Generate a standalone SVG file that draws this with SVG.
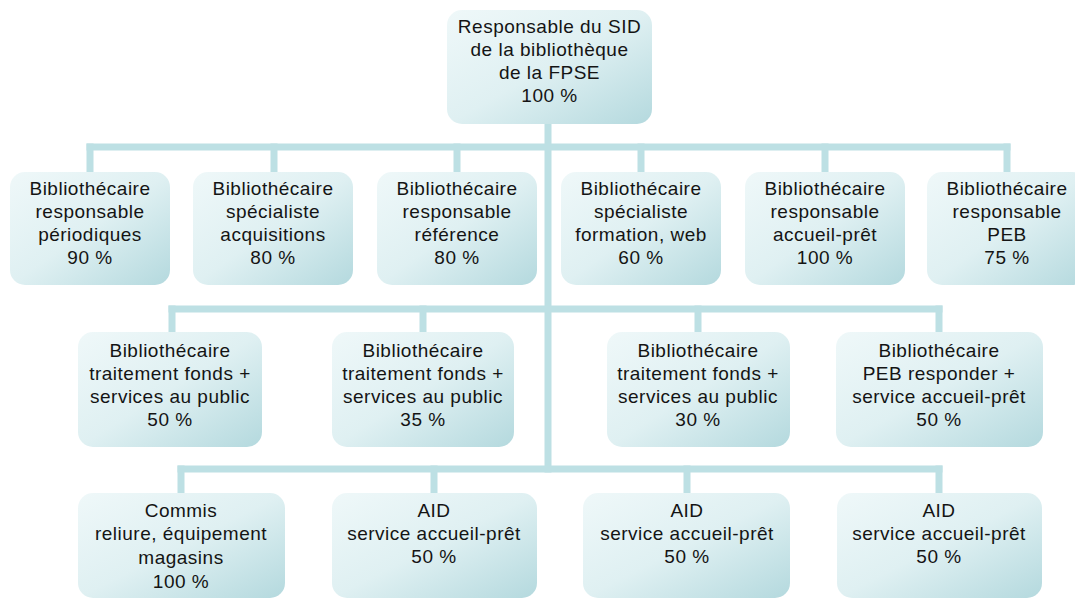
<svg xmlns="http://www.w3.org/2000/svg" width="1075" height="600" viewBox="0 0 1075 600">
<defs>
<linearGradient id="g" x1="0" y1="0" x2="1" y2="1">
<stop offset="0" stop-color="#eff8f9"/>
<stop offset="0.5" stop-color="#dff0f2"/>
<stop offset="1" stop-color="#b4d9de"/>
</linearGradient>
<style>
.box{fill:url(#g);}
.t{font-family:"Liberation Sans",Arial,sans-serif;font-size:19px;fill:#141414;text-anchor:middle;letter-spacing:0.5px;}
.c{stroke:#bde0e4;stroke-width:7;fill:none;stroke-linecap:square;}
</style>
</defs>
<rect width="1075" height="600" fill="#ffffff"/>
<g id="connectors">
<path class="c" d="M548,124 V469"/>
<path class="c" d="M90,147 H1007"/>
<path class="c" d="M90,147 V172 M274,147 V172 M457,147 V172 M641,147 V172 M825,147 V172 M1007,147 V172"/>
<path class="c" d="M172,309 H939"/>
<path class="c" d="M172,309 V332 M423,309 V332 M698,309 V332 M939,309 V332"/>
<path class="c" d="M181,469 H939"/>
<path class="c" d="M181,469 V493 M434,469 V493 M687,469 V493 M939,469 V493"/>
</g>
<g id="n0"><rect class="box" x="447" y="10" width="205" height="114" rx="15"/>
<text class="t" x="549.5"><tspan x="549.5" y="33">Responsable du SID</tspan><tspan x="549.5" y="56">de la bibliothèque</tspan><tspan x="549.5" y="79">de la FPSE</tspan><tspan x="549.5" y="102">100 %</tspan></text></g>
<g id="n1"><rect class="box" x="10" y="172" width="160" height="113" rx="15"/>
<text class="t"><tspan x="90" y="195">Bibliothécaire</tspan><tspan x="90" y="218">responsable</tspan><tspan x="90" y="241">périodiques</tspan><tspan x="90" y="264">90 %</tspan></text></g>
<g id="n2"><rect class="box" x="193" y="172" width="160" height="113" rx="15"/>
<text class="t"><tspan x="273" y="195">Bibliothécaire</tspan><tspan x="273" y="218">spécialiste</tspan><tspan x="273" y="241">acquisitions</tspan><tspan x="273" y="264">80 %</tspan></text></g>
<g id="n3"><rect class="box" x="377" y="172" width="160" height="113" rx="15"/>
<text class="t"><tspan x="457" y="195">Bibliothécaire</tspan><tspan x="457" y="218">responsable</tspan><tspan x="457" y="241">référence</tspan><tspan x="457" y="264">80 %</tspan></text></g>
<g id="n4"><rect class="box" x="561" y="172" width="160" height="113" rx="15"/>
<text class="t"><tspan x="641" y="195">Bibliothécaire</tspan><tspan x="641" y="218">spécialiste</tspan><tspan x="641" y="241">formation, web</tspan><tspan x="641" y="264">60 %</tspan></text></g>
<g id="n5"><rect class="box" x="745" y="172" width="160" height="113" rx="15"/>
<text class="t"><tspan x="825" y="195">Bibliothécaire</tspan><tspan x="825" y="218">responsable</tspan><tspan x="825" y="241">accueil-prêt</tspan><tspan x="825" y="264">100 %</tspan></text></g>
<g id="n6"><rect class="box" x="927" y="172" width="160" height="113" rx="15"/>
<text class="t"><tspan x="1007" y="195">Bibliothécaire</tspan><tspan x="1007" y="218">responsable</tspan><tspan x="1007" y="241">PEB</tspan><tspan x="1007" y="264">75 %</tspan></text></g>
<g id="n7"><rect class="box" x="78" y="332" width="184" height="115" rx="15"/>
<text class="t"><tspan x="170" y="357">Bibliothécaire</tspan><tspan x="170" y="380">traitement fonds +</tspan><tspan x="170" y="403">services au public</tspan><tspan x="170" y="426">50 %</tspan></text></g>
<g id="n8"><rect class="box" x="332" y="332" width="182" height="115" rx="15"/>
<text class="t"><tspan x="423" y="357">Bibliothécaire</tspan><tspan x="423" y="380">traitement fonds +</tspan><tspan x="423" y="403">services au public</tspan><tspan x="423" y="426">35 %</tspan></text></g>
<g id="n9"><rect class="box" x="607" y="332" width="183" height="115" rx="15"/>
<text class="t"><tspan x="698" y="357">Bibliothécaire</tspan><tspan x="698" y="380">traitement fonds +</tspan><tspan x="698" y="403">services au public</tspan><tspan x="698" y="426">30 %</tspan></text></g>
<g id="n10"><rect class="box" x="836" y="332" width="207" height="115" rx="15"/>
<text class="t"><tspan x="939" y="357">Bibliothécaire</tspan><tspan x="939" y="380">PEB responder +</tspan><tspan x="939" y="403">service accueil-prêt</tspan><tspan x="939" y="426">50 %</tspan></text></g>
<g id="n11"><rect class="box" x="78" y="493" width="207" height="105" rx="15"/>
<text class="t"><tspan x="181" y="517">Commis</tspan><tspan x="181" y="540">reliure, équipement</tspan><tspan x="181" y="564">magasins</tspan><tspan x="181" y="588">100 %</tspan></text></g>
<g id="n12"><rect class="box" x="332" y="493" width="205" height="105" rx="15"/>
<text class="t"><tspan x="434" y="517">AID</tspan><tspan x="434" y="540">service accueil-prêt</tspan><tspan x="434" y="563">50 %</tspan></text></g>
<g id="n13"><rect class="box" x="583" y="493" width="207" height="105" rx="15"/>
<text class="t"><tspan x="687" y="517">AID</tspan><tspan x="687" y="540">service accueil-prêt</tspan><tspan x="687" y="563">50 %</tspan></text></g>
<g id="n14"><rect class="box" x="837" y="493" width="205" height="105" rx="15"/>
<text class="t"><tspan x="939" y="517">AID</tspan><tspan x="939" y="540">service accueil-prêt</tspan><tspan x="939" y="563">50 %</tspan></text></g>
</svg>
